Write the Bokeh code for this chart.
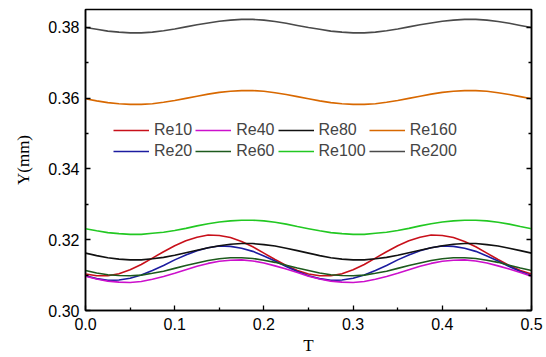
from bokeh.plotting import figure
from bokeh.models import Range1d, FixedTicker, LinearAxis, Legend, LegendItem, PrintfTickFormatter
from bokeh.embed import file_html
from bokeh.resources import INLINE

T = [0.0, 0.0125, 0.025, 0.0375, 0.05, 0.0625, 0.075, 0.0875, 0.1, 0.1125,
     0.125, 0.1375, 0.15, 0.1625, 0.175, 0.1875, 0.2, 0.2125, 0.225, 0.2375,
     0.25, 0.2625, 0.275, 0.2875, 0.3, 0.3125, 0.325, 0.3375, 0.35, 0.3625,
     0.375, 0.3875, 0.4, 0.4125, 0.425, 0.4375, 0.45, 0.4625, 0.475, 0.4875, 0.5]

re10 = [0.3103, 0.3098, 0.3098, 0.3104, 0.3115, 0.3130, 0.3148, 0.3166, 0.3183, 0.3197,
        0.3207, 0.3213, 0.3212, 0.3206, 0.3195, 0.3180, 0.3162, 0.3144, 0.3127, 0.3113,
        0.3103, 0.3098, 0.3098, 0.3104, 0.3115, 0.3130, 0.3148, 0.3166, 0.3183, 0.3197,
        0.3207, 0.3213, 0.3212, 0.3206, 0.3195, 0.3180, 0.3162, 0.3144, 0.3127, 0.3113, 0.3103]
re20 = [0.3098, 0.3090, 0.3085, 0.3086, 0.3091, 0.3100, 0.3113, 0.3127, 0.3143, 0.3157,
        0.3169, 0.3177, 0.3182, 0.3181, 0.3176, 0.3167, 0.3154, 0.3140, 0.3124, 0.3110,
        0.3098, 0.3090, 0.3085, 0.3086, 0.3091, 0.3100, 0.3113, 0.3127, 0.3143, 0.3157,
        0.3169, 0.3177, 0.3182, 0.3181, 0.3176, 0.3167, 0.3154, 0.3140, 0.3124, 0.3110, 0.3098]
re40 = [0.3097, 0.3089, 0.3083, 0.3080, 0.3079, 0.3082, 0.3088, 0.3096, 0.3105, 0.3115,
        0.3125, 0.3133, 0.3139, 0.3142, 0.3143, 0.3140, 0.3134, 0.3126, 0.3117, 0.3107,
        0.3097, 0.3089, 0.3083, 0.3080, 0.3079, 0.3082, 0.3088, 0.3096, 0.3105, 0.3115,
        0.3125, 0.3133, 0.3139, 0.3142, 0.3143, 0.3140, 0.3134, 0.3126, 0.3117, 0.3107, 0.3097]
re60 = [0.3113, 0.3106, 0.3101, 0.3099, 0.3098, 0.3100, 0.3105, 0.3111, 0.3119, 0.3127,
        0.3134, 0.3141, 0.3146, 0.3149, 0.3149, 0.3147, 0.3142, 0.3136, 0.3128, 0.3120,
        0.3113, 0.3106, 0.3101, 0.3099, 0.3098, 0.3100, 0.3105, 0.3111, 0.3119, 0.3127,
        0.3134, 0.3141, 0.3146, 0.3149, 0.3149, 0.3147, 0.3142, 0.3136, 0.3128, 0.3120, 0.3113]
re80 = [0.3162, 0.3155, 0.3149, 0.3145, 0.3143, 0.3143, 0.3146, 0.3150, 0.3156, 0.3163,
        0.3170, 0.3177, 0.3183, 0.3187, 0.3189, 0.3189, 0.3186, 0.3182, 0.3176, 0.3169,
        0.3162, 0.3155, 0.3149, 0.3145, 0.3143, 0.3143, 0.3146, 0.3150, 0.3156, 0.3163,
        0.3170, 0.3177, 0.3183, 0.3187, 0.3189, 0.3189, 0.3186, 0.3182, 0.3176, 0.3169, 0.3162]
re100 = [0.3231, 0.3225, 0.3220, 0.3217, 0.3215, 0.3215, 0.3218, 0.3221, 0.3226, 0.3232,
         0.3239, 0.3245, 0.3250, 0.3253, 0.3255, 0.3255, 0.3253, 0.3249, 0.3244, 0.3237,
         0.3231, 0.3225, 0.3220, 0.3217, 0.3215, 0.3215, 0.3218, 0.3221, 0.3226, 0.3232,
         0.3239, 0.3245, 0.3250, 0.3253, 0.3255, 0.3255, 0.3253, 0.3249, 0.3244, 0.3237, 0.3231]
re160 = [0.3598, 0.3592, 0.3587, 0.3584, 0.3582, 0.3582, 0.3584, 0.3588, 0.3593, 0.3599,
         0.3605, 0.3611, 0.3616, 0.3619, 0.3621, 0.3621, 0.3619, 0.3615, 0.3610, 0.3604,
         0.3598, 0.3592, 0.3587, 0.3584, 0.3582, 0.3582, 0.3584, 0.3588, 0.3593, 0.3599,
         0.3605, 0.3611, 0.3616, 0.3619, 0.3621, 0.3621, 0.3619, 0.3615, 0.3610, 0.3604, 0.3598]
re200 = [0.3799, 0.3794, 0.3789, 0.3786, 0.3784, 0.3784, 0.3786, 0.3790, 0.3795, 0.3801,
         0.3807, 0.3812, 0.3817, 0.3820, 0.3822, 0.3822, 0.3820, 0.3816, 0.3811, 0.3805,
         0.3799, 0.3794, 0.3789, 0.3786, 0.3784, 0.3784, 0.3786, 0.3790, 0.3795, 0.3801,
         0.3807, 0.3812, 0.3817, 0.3820, 0.3822, 0.3822, 0.3820, 0.3816, 0.3811, 0.3805, 0.3799]

names = ["Re10", "Re20", "Re40", "Re60", "Re80", "Re100", "Re160", "Re200"]
series = [re10, re20, re40, re60, re80, re100, re160, re200]
colors = ["#c8101a", "#1c1ca0", "#cc10cc", "#1d5a1d", "#111111", "#22c822", "#d86800", "#4a4a4a"]

x_ticks = [0.0, 0.1, 0.2, 0.3, 0.4, 0.5]
x_minor = [0.05, 0.15, 0.25, 0.35, 0.45]
y_ticks = [0.30, 0.32, 0.34, 0.36, 0.38]
y_minor = [0.31, 0.33, 0.35, 0.37]

p = figure(width=546, height=357, output_backend="svg", toolbar_location=None,
           x_range=Range1d(0.0, 0.5), y_range=Range1d(0.30, 0.385),
           min_border_left=85, min_border_right=15, min_border_top=9, min_border_bottom=45)
p.xgrid.visible = False
p.ygrid.visible = False
p.outline_line_color = "black"
p.outline_line_width = 1.5
p.background_fill_color = "white"
p.border_fill_color = "white"

renderers = []
for n, s, c in zip(names, series, colors):
    r = p.line(T, s, line_color=c, line_width=1.6)
    renderers.append(r)

def style_axis(ax):
    ax.axis_line_color = "black"
    ax.axis_line_width = 1.5
    ax.major_tick_in = 5
    ax.major_tick_out = 0
    ax.minor_tick_in = 3
    ax.minor_tick_out = 0
    ax.major_tick_line_color = "black"
    ax.minor_tick_line_color = "black"
    ax.major_tick_line_width = 1.3
    ax.minor_tick_line_width = 1.3
    ax.major_label_text_font = "Liberation Sans"
    ax.major_label_text_font_size = "16px"
    ax.major_label_text_color = "black"
    ax.axis_label_text_font = "Liberation Serif"
    ax.axis_label_text_font_style = "normal"
    ax.axis_label_text_font_size = "17px"
    ax.axis_label_text_color = "black"

xa = p.xaxis[0]
xa.ticker = FixedTicker(ticks=x_ticks, minor_ticks=x_minor)
xa.formatter = PrintfTickFormatter(format="%.1f")
xa.axis_label = "T"
style_axis(xa)
xa.major_label_standoff = 7
xa.axis_label_standoff = 3

ya = p.yaxis[0]
ya.ticker = FixedTicker(ticks=y_ticks, minor_ticks=y_minor)
ya.formatter = PrintfTickFormatter(format="%.2f")
ya.axis_label = "Y(mm)"
style_axis(ya)
ya.major_label_standoff = 6
ya.axis_label_standoff = 12

ra = LinearAxis(ticker=FixedTicker(ticks=y_ticks, minor_ticks=y_minor))
style_axis(ra)
ra.major_label_overrides = {t: "" for t in y_ticks}
ra.major_label_standoff = 0
p.add_layout(ra, "right")

items = [LegendItem(label=n, renderers=[r]) for n, r in zip(names, renderers)]
legend = Legend(items=items, orientation="vertical", nrows=2,
                location=(28, 150), padding=0, margin=0, spacing=3,
                glyph_width=36, glyph_height=16, label_height=16, label_standoff=5,
                label_text_font="Liberation Sans", label_text_font_size="16px",
                border_line_alpha=0, background_fill_alpha=0)
p.add_layout(legend, "center")

open("out.html", "w").write(file_html(p, INLINE))
